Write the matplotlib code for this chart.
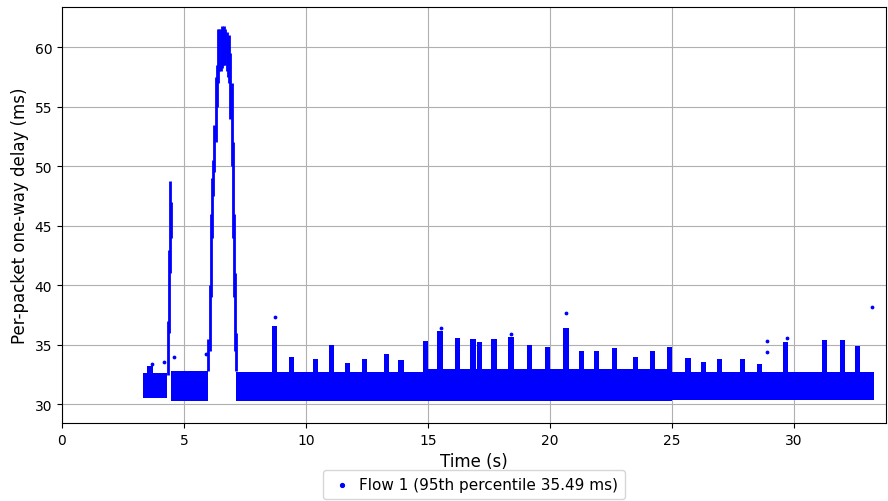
import matplotlib
matplotlib.use("Agg")
import matplotlib.pyplot as plt

# Base band of packet delays (start time, end time, lower, upper) in s / ms
band_t0 = [3.3, 4.45, 7.12, 14.8, 25.0]
band_t1 = [4.3, 6.0, 14.8, 25.0, 33.3]
band_lo = [30.5, 30.3, 30.3, 30.3, 30.4]
band_hi = [32.6, 32.8, 32.7, 33.0, 32.7]

# Short delay bursts above the band (time, top of burst)
burst_t = [3.6, 8.7, 9.4, 10.4, 11.05, 11.7, 12.4, 13.3, 13.9, 14.9, 15.5,
           16.2, 16.85, 17.1, 17.7, 18.4, 19.15, 19.9, 20.65, 21.3, 21.9,
           22.65, 23.5, 24.2, 24.9, 25.65, 26.3, 26.95, 27.9, 28.6, 29.65,
           31.25, 32.0, 32.6]
burst_top = [33.2, 36.6, 34.0, 33.8, 35.0, 33.5, 33.8, 34.2, 33.7, 35.3, 36.2,
             35.6, 35.5, 35.2, 35.5, 35.7, 35.0, 34.8, 36.4, 34.5, 34.5,
             34.7, 34.0, 34.5, 34.8, 33.9, 33.6, 33.8, 33.8, 33.4, 35.2,
             35.4, 35.4, 34.9]

# Large delay excursions (vertical extent of points at each time)
ramp_t = [4.34, 4.38, 4.42, 4.45,
          6.00, 6.05, 6.10, 6.15, 6.20, 6.25, 6.30, 6.35, 6.40, 6.45, 6.50,
          6.55, 6.60, 6.65, 6.70, 6.75, 6.80, 6.85, 6.90, 6.95, 7.00, 7.05,
          7.10, 7.15]
ramp_lo = [32.5, 36.0, 41.0, 44.0,
           32.8, 34.5, 39.0, 44.0, 47.5, 49.5, 52.0, 55.0, 57.0, 58.0, 58.0,
           58.3, 58.5, 58.5, 58.5, 58.0, 57.5, 57.0, 54.0, 50.0, 44.0, 39.0,
           34.5, 32.8]
ramp_hi = [37.0, 43.0, 48.8, 47.0,
           35.5, 40.0, 46.0, 49.0, 50.5, 53.5, 57.5, 58.5, 61.5, 61.5, 61.5,
           61.8, 61.7, 61.8, 61.5, 61.3, 60.8, 61.0, 59.5, 57.0, 52.0, 46.0,
           41.0, 36.0]

# Isolated packets
out_t = [33.2, 28.9, 28.9, 20.65, 8.75, 18.4, 3.7, 4.2, 4.6, 5.9, 15.55, 29.7]
out_d = [38.2, 35.3, 34.4, 37.7, 37.3, 35.9, 33.4, 33.6, 34.0, 34.2, 36.4, 35.6]

label = "Flow 1 (95th percentile 35.49 ms)"
col = "#0000ff"

fig = plt.figure(figsize=(8.88, 5.02), dpi=100)
ax = fig.add_axes([0.0698, 0.155, 0.9279, 0.829])

for t0, t1, lo, hi in zip(band_t0, band_t1, band_lo, band_hi):
    ax.fill_between([t0, t1], [lo, lo], [hi, hi], color=col, lw=0)

ax.bar(burst_t, [b - 31.5 for b in burst_top], bottom=31.5, width=0.22,
       color=col, lw=0)
ax.vlines(ramp_t, ramp_lo, ramp_hi, color=col, lw=2.0)
ax.scatter(out_t, out_d, s=3, color=col, label=label)

ax.set_xlim(0, 33.77)
ax.set_ylim(28.42, 63.38)
ax.set_xticks([0, 5, 10, 15, 20, 25, 30])
ax.set_yticks([30, 35, 40, 45, 50, 55, 60])
ax.grid(True, color="#b0b0b0", lw=0.8)
ax.set_axisbelow(True)
ax.tick_params(labelsize=10)
ax.set_xlabel("Time (s)", fontsize=12)
ax.set_ylabel("Per-packet one-way delay (ms)", fontsize=12)
ax.legend(loc="upper center", bbox_to_anchor=(0.5, -0.095), fontsize=11,
          markerscale=1.6, handletextpad=0.3, handlelength=1.6, borderpad=0.45)

fig.savefig("out.png", dpi=100)
